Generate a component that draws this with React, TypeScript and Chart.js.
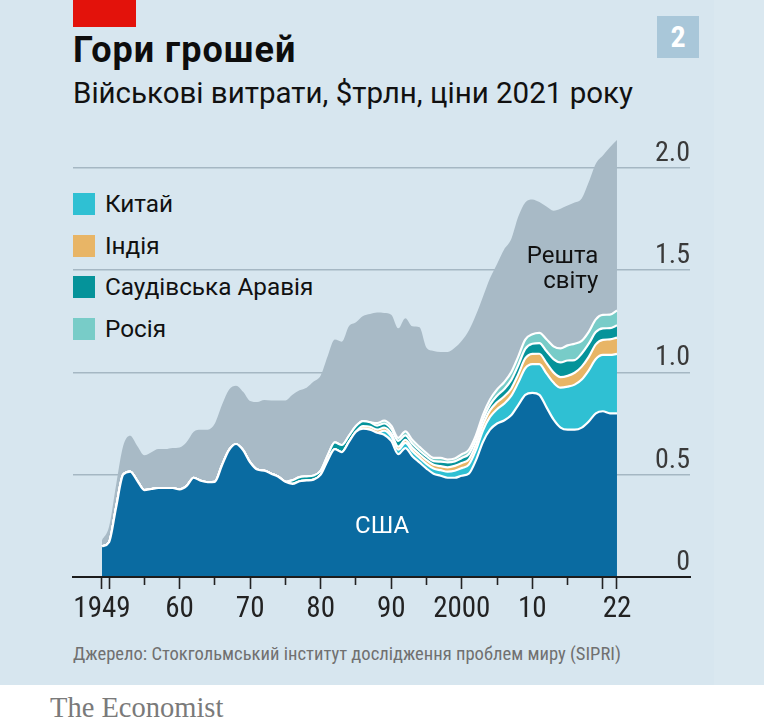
import React, { useEffect, useRef } from 'react';
import { Chart, registerables } from 'chart.js';

Chart.register(...registerables);

// ---------- data ----------
const years = [
  1949, 1950, 1951, 1952, 1953, 1954, 1955, 1956, 1957, 1958, 1959,
  1960, 1961, 1962, 1963, 1964, 1965, 1966, 1967, 1968, 1969,
  1970, 1971, 1972, 1973, 1974, 1975, 1976, 1977, 1978, 1979,
  1980, 1981, 1982, 1983, 1984, 1985, 1986, 1987, 1988, 1989,
  1990, 1991, 1992, 1993, 1994, 1995, 1996, 1997, 1998, 1999,
  2000, 2001, 2002, 2003, 2004, 2005, 2006, 2007, 2008, 2009,
  2010, 2011, 2012, 2013, 2014, 2015, 2016, 2017, 2018, 2019,
  2020, 2021, 2022,
];

const usa = [
  0.15, 0.17, 0.34, 0.5, 0.515, 0.47, 0.425, 0.43, 0.435, 0.435, 0.435,
  0.428, 0.445, 0.485, 0.47, 0.463, 0.465, 0.545, 0.62, 0.65, 0.62,
  0.56, 0.525, 0.52, 0.505, 0.49, 0.465, 0.455, 0.468, 0.472, 0.476,
  0.5, 0.57, 0.625, 0.61, 0.66, 0.71, 0.725, 0.72, 0.705, 0.695,
  0.665, 0.6, 0.63, 0.59, 0.56, 0.53, 0.505, 0.495, 0.485, 0.485,
  0.495, 0.505, 0.57, 0.66, 0.72, 0.75, 0.765, 0.79, 0.84, 0.89,
  0.9, 0.89, 0.83, 0.77, 0.73, 0.72, 0.72, 0.73, 0.76, 0.8,
  0.81, 0.8, 0.8,
];

const china = [
  0, 0, 0, 0, 0, 0, 0, 0, 0, 0, 0,
  0, 0, 0, 0, 0, 0, 0, 0, 0, 0,
  0, 0, 0, 0, 0, 0, 0, 0, 0, 0,
  0, 0, 0, 0, 0, 0, 0, 0, 0, 0.02,
  0.022, 0.022, 0.025, 0.024, 0.023, 0.023, 0.025, 0.027, 0.03, 0.034,
  0.037, 0.044, 0.05, 0.056, 0.062, 0.07, 0.082, 0.095, 0.11, 0.13,
  0.14, 0.15, 0.165, 0.18, 0.195, 0.21, 0.22, 0.235, 0.25, 0.265,
  0.275, 0.285, 0.29,
];

const india = [
  0, 0, 0, 0, 0, 0, 0, 0, 0, 0, 0,
  0, 0, 0, 0, 0, 0, 0, 0, 0, 0,
  0, 0, 0, 0, 0, 0, 0, 0, 0, 0,
  0, 0, 0, 0, 0, 0, 0.012, 0.014, 0.015, 0.015,
  0.015, 0.015, 0.015, 0.017, 0.017, 0.018, 0.018, 0.02, 0.021, 0.024,
  0.025, 0.026, 0.026, 0.027, 0.032, 0.034, 0.035, 0.035, 0.04, 0.048,
  0.05, 0.051, 0.051, 0.05, 0.052, 0.053, 0.058, 0.063, 0.066, 0.072,
  0.074, 0.076, 0.08,
];

const saudi = [
  0, 0, 0, 0, 0, 0, 0, 0, 0, 0, 0,
  0, 0, 0, 0, 0, 0, 0, 0, 0, 0,
  0, 0, 0, 0, 0, 0, 0.018, 0.02, 0.02, 0.02,
  0.02, 0.025, 0.033, 0.035, 0.03, 0.028, 0.025, 0.022, 0.02, 0.02,
  0.022, 0.028, 0.022, 0.02, 0.018, 0.018, 0.018, 0.022, 0.024, 0.022,
  0.025, 0.026, 0.024, 0.025, 0.027, 0.032, 0.036, 0.042, 0.045, 0.047,
  0.05, 0.052, 0.058, 0.065, 0.072, 0.075, 0.062, 0.064, 0.064, 0.06,
  0.056, 0.055, 0.06,
];

const russia = [
  0, 0, 0, 0, 0, 0, 0, 0, 0, 0, 0,
  0, 0, 0, 0, 0, 0, 0, 0, 0, 0,
  0, 0, 0, 0, 0, 0, 0, 0, 0, 0,
  0, 0, 0, 0, 0, 0, 0, 0, 0.012, 0.014,
  0.015, 0.015, 0.02, 0.018, 0.018, 0.016, 0.016, 0.018, 0.014, 0.014,
  0.018, 0.02, 0.022, 0.024, 0.026, 0.03, 0.034, 0.038, 0.042, 0.045,
  0.046, 0.05, 0.058, 0.062, 0.068, 0.074, 0.08, 0.062, 0.058, 0.062,
  0.066, 0.066, 0.072,
];

// world total (top of the grey "rest of world" area)
const worldTotal = [
  0.18, 0.245, 0.45, 0.64, 0.69, 0.64, 0.595, 0.61, 0.625, 0.625, 0.63,
  0.633, 0.66, 0.71, 0.72, 0.72, 0.75, 0.84, 0.915, 0.935, 0.905,
  0.86, 0.855, 0.865, 0.862, 0.862, 0.862, 0.89, 0.912, 0.925, 0.955,
  0.985, 1.08, 1.16, 1.15, 1.225, 1.245, 1.275, 1.285, 1.292, 1.29,
  1.282, 1.215, 1.265, 1.225, 1.22, 1.12, 1.105, 1.1, 1.1, 1.12,
  1.155, 1.205, 1.28, 1.37, 1.46, 1.53, 1.6, 1.65, 1.76, 1.83,
  1.845, 1.832, 1.81, 1.79, 1.8, 1.815, 1.83, 1.85, 1.93, 2.02,
  2.06, 2.1, 2.135,
];

const xTickYears = [1949, 1950, 1955, 1960, 1965, 1970, 1975, 1980, 1985, 1990, 1995, 2000, 2005, 2010, 2015, 2020, 2022];
const xLabelYears = [1949, 1960, 1970, 1980, 1990, 2000, 2010, 2022];
const xLabelTexts = ['1949', '60', '70', '80', '90', '2000', '10', '22'];
const yTickValues = [0, 0.5, 1, 1.5, 2];
const yTickTexts = ['0', '0.5', '1.0', '1.5', '2.0'];

const legendItems = ['Китай', 'Індія', 'Саудівська Аравія', 'Росія'];
const restLabel = ['Решта', 'світу'];
const usaLabel = 'США';

// ---------- styles ----------
const COLORS = {
  usa: '#0a6ba1',
  china: '#2fc0d3',
  india: '#e8b566',
  saudi: '#05939a',
  russia: '#78ccc8',
  rest: '#a8bac6',
  bg: '#d7e6ef',
};
const legendColors = [COLORS.china, COLORS.india, COLORS.saudi, COLORS.russia];
const NARROW = "'Liberation Sans Narrow', 'Roboto Condensed', Roboto, sans-serif";

const inlineLabels = {
  id: 'inlineLabels',
  afterDatasetsDraw(chart: any) {
    const { ctx, scales } = chart;
    const x = scales.x;
    const y = scales.y;
    ctx.save();
    ctx.font = '24px Roboto';
    ctx.textBaseline = 'alphabetic';
    ctx.fillStyle = '#111';
    ctx.textAlign = 'right';
    const restPos = [1.535, 1.412];
    restLabel.forEach((t, i) => {
      ctx.fillText(t, x.getPixelForValue(2019.35), y.getPixelForValue(restPos[i]));
    });
    ctx.fillStyle = '#ffffff';
    ctx.textAlign = 'center';
    ctx.fillText(usaLabel, x.getPixelForValue(1988.7), y.getPixelForValue(0.215));
    ctx.restore();
  },
};

function series(label: string, values: number[], color: string, fill: any, stack: string, line = true) {
  return {
    label,
    data: years.map((yr, i) => ({ x: yr, y: values[i] })),
    backgroundColor: color,
    borderColor: line ? '#ffffff' : 'rgba(0,0,0,0)',
    borderWidth: line ? 2.2 : 0,
    fill,
    stack,
    pointRadius: 0,
    pointHoverRadius: 0,
    cubicInterpolationMode: 'monotone',
  };
}

function ChartView() {
  const ref = useRef<HTMLCanvasElement | null>(null);
  useEffect(() => {
    if (!ref.current) return;
    const chart = new Chart(ref.current, {
      type: 'line',
      data: {
        datasets: [
          series('США', usa, COLORS.usa, 'origin', 'c'),
          series('Китай', china, COLORS.china, '-1', 'c'),
          series('Індія', india, COLORS.india, '-1', 'c'),
          series('Саудівська Аравія', saudi, COLORS.saudi, '-1', 'c'),
          series('Росія', russia, COLORS.russia, '-1', 'c'),
          series('Решта світу', worldTotal, COLORS.rest, '-1', 'w', false),
        ] as any,
      },
      options: {
        animation: false,
        responsive: true,
        maintainAspectRatio: false,
        events: [],
        layout: { padding: { left: 73, right: 74, top: 14, bottom: 0 } },
        plugins: { legend: { display: false }, tooltip: { enabled: false } },
        scales: {
          x: {
            type: 'linear',
            min: 1944.89,
            max: 2032.35,
            afterBuildTicks: (s: any) => {
              s.ticks = xTickYears.map((v) => ({ value: v }));
            },
            afterFit: (s: any) => {
              s.height = 63;
            },
            ticks: {
              autoSkip: false,
              maxRotation: 0,
              padding: 3,
              color: '#222',
              font: { family: NARROW, size: 29 },
              callback: (v: any) => {
                const i = xLabelYears.indexOf(Number(v));
                return i >= 0 ? xLabelTexts[i] : '';
              },
            },
            grid: {
              drawOnChartArea: false,
              drawTicks: true,
              tickLength: 12,
              tickColor: '#222',
              tickWidth: 1.6,
              tickBorderDash: (c: any) => {
                const v = c.tick ? c.tick.value : 0;
                return v % 10 === 0 || v === 1949 || v === 2022 ? [] : [7, 100];
              },
            },
            border: { display: true, color: '#1c1c1c', width: 2, z: 1 },
          },
          y: {
            type: 'linear',
            position: 'right',
            stacked: true,
            min: 0,
            max: 2.2,
            afterBuildTicks: (s: any) => {
              s.ticks = yTickValues.map((v) => ({ value: v }));
            },
            afterFit: (s: any) => {
              s.width = 0;
            },
            ticks: {
              mirror: true,
              padding: 0,
              crossAlign: 'near',
              labelOffset: -14,
              color: '#3a3a3a',
              font: { family: NARROW, size: 28 },
              callback: (v: any) => {
                const i = yTickValues.indexOf(Number(v));
                return i >= 0 ? yTickTexts[i] : '';
              },
            },
            grid: { color: '#a5b7c3', lineWidth: 1.6, drawTicks: false },
            border: { display: false },
          },
        },
      },
      plugins: [inlineLabels],
    } as any);
    return () => chart.destroy();
  }, []);
  return (
    <div style={{ position: 'absolute', left: 0, top: 110, width: 764, height: 530 }}>
      <canvas ref={ref} />
    </div>
  );
}

export default function App() {
  return (
    <div
      style={{
        position: 'absolute',
        left: 0,
        top: 0,
        width: 764,
        height: 727,
        background: '#ffffff',
        overflow: 'hidden',
        fontFamily: 'Roboto, sans-serif',
      }}
    >
      <div style={{ position: 'absolute', left: 0, top: 0, width: 714, height: 685, background: COLORS.bg }} />
      <div style={{ position: 'absolute', left: 714, top: 0, width: 50, height: 685, background: '#dae8f0' }} />
      <div style={{ position: 'absolute', left: 73, top: 0, width: 63, height: 27, background: '#e3120b' }} />
      <div
        style={{
          position: 'absolute',
          left: 73,
          top: 32,
          fontSize: 36,
          lineHeight: '36px',
          fontWeight: 700,
          letterSpacing: 1,
          color: '#0d0d0d',
          whiteSpace: 'nowrap',
        }}
      >
        Гори грошей
      </div>
      <div
        style={{
          position: 'absolute',
          left: 73,
          top: 79,
          fontSize: 29.5,
          lineHeight: '29.5px',
          color: '#111',
          whiteSpace: 'nowrap',
        }}
      >
        Військові витрати, $трлн, ціни 2021 року
      </div>
      <div
        style={{
          position: 'absolute',
          left: 657,
          top: 16,
          width: 42,
          height: 42,
          background: '#a9c7d9',
          color: '#fff',
          fontWeight: 700,
          fontSize: 30,
          lineHeight: '42px',
          textAlign: 'center',
          fontFamily: NARROW,
        }}
      >
        2
      </div>
      {legendItems.map((t, i) => {
        const cy = [204, 246, 287, 329][i];
        return (
          <React.Fragment key={t}>
            <div
              style={{
                position: 'absolute',
                left: 73,
                top: cy - 11,
                width: 22,
                height: 22,
                background: legendColors[i],
              }}
            />
            <div
              style={{
                position: 'absolute',
                left: 105,
                top: cy - 12,
                fontSize: 24.3,
                lineHeight: '24px',
                color: '#111',
                whiteSpace: 'nowrap',
              }}
            >
              {t}
            </div>
          </React.Fragment>
        );
      })}
      <ChartView />
      <div
        style={{
          position: 'absolute',
          left: 73,
          top: 645,
          fontSize: 18.6,
          lineHeight: '18.6px',
          color: '#707070',
          whiteSpace: 'nowrap',
          fontFamily: NARROW,
        }}
      >
        Джерело: Стокгольмський інститут дослідження проблем миру (SIPRI)
      </div>
      <div
        style={{
          position: 'absolute',
          left: 50,
          top: 694,
          fontSize: 28.5,
          lineHeight: '28.5px',
          color: '#7a7a7a',
          whiteSpace: 'nowrap',
          fontFamily: "'Liberation Serif', 'DejaVu Serif', serif",
        }}
      >
        The Economist
      </div>
    </div>
  );
}
